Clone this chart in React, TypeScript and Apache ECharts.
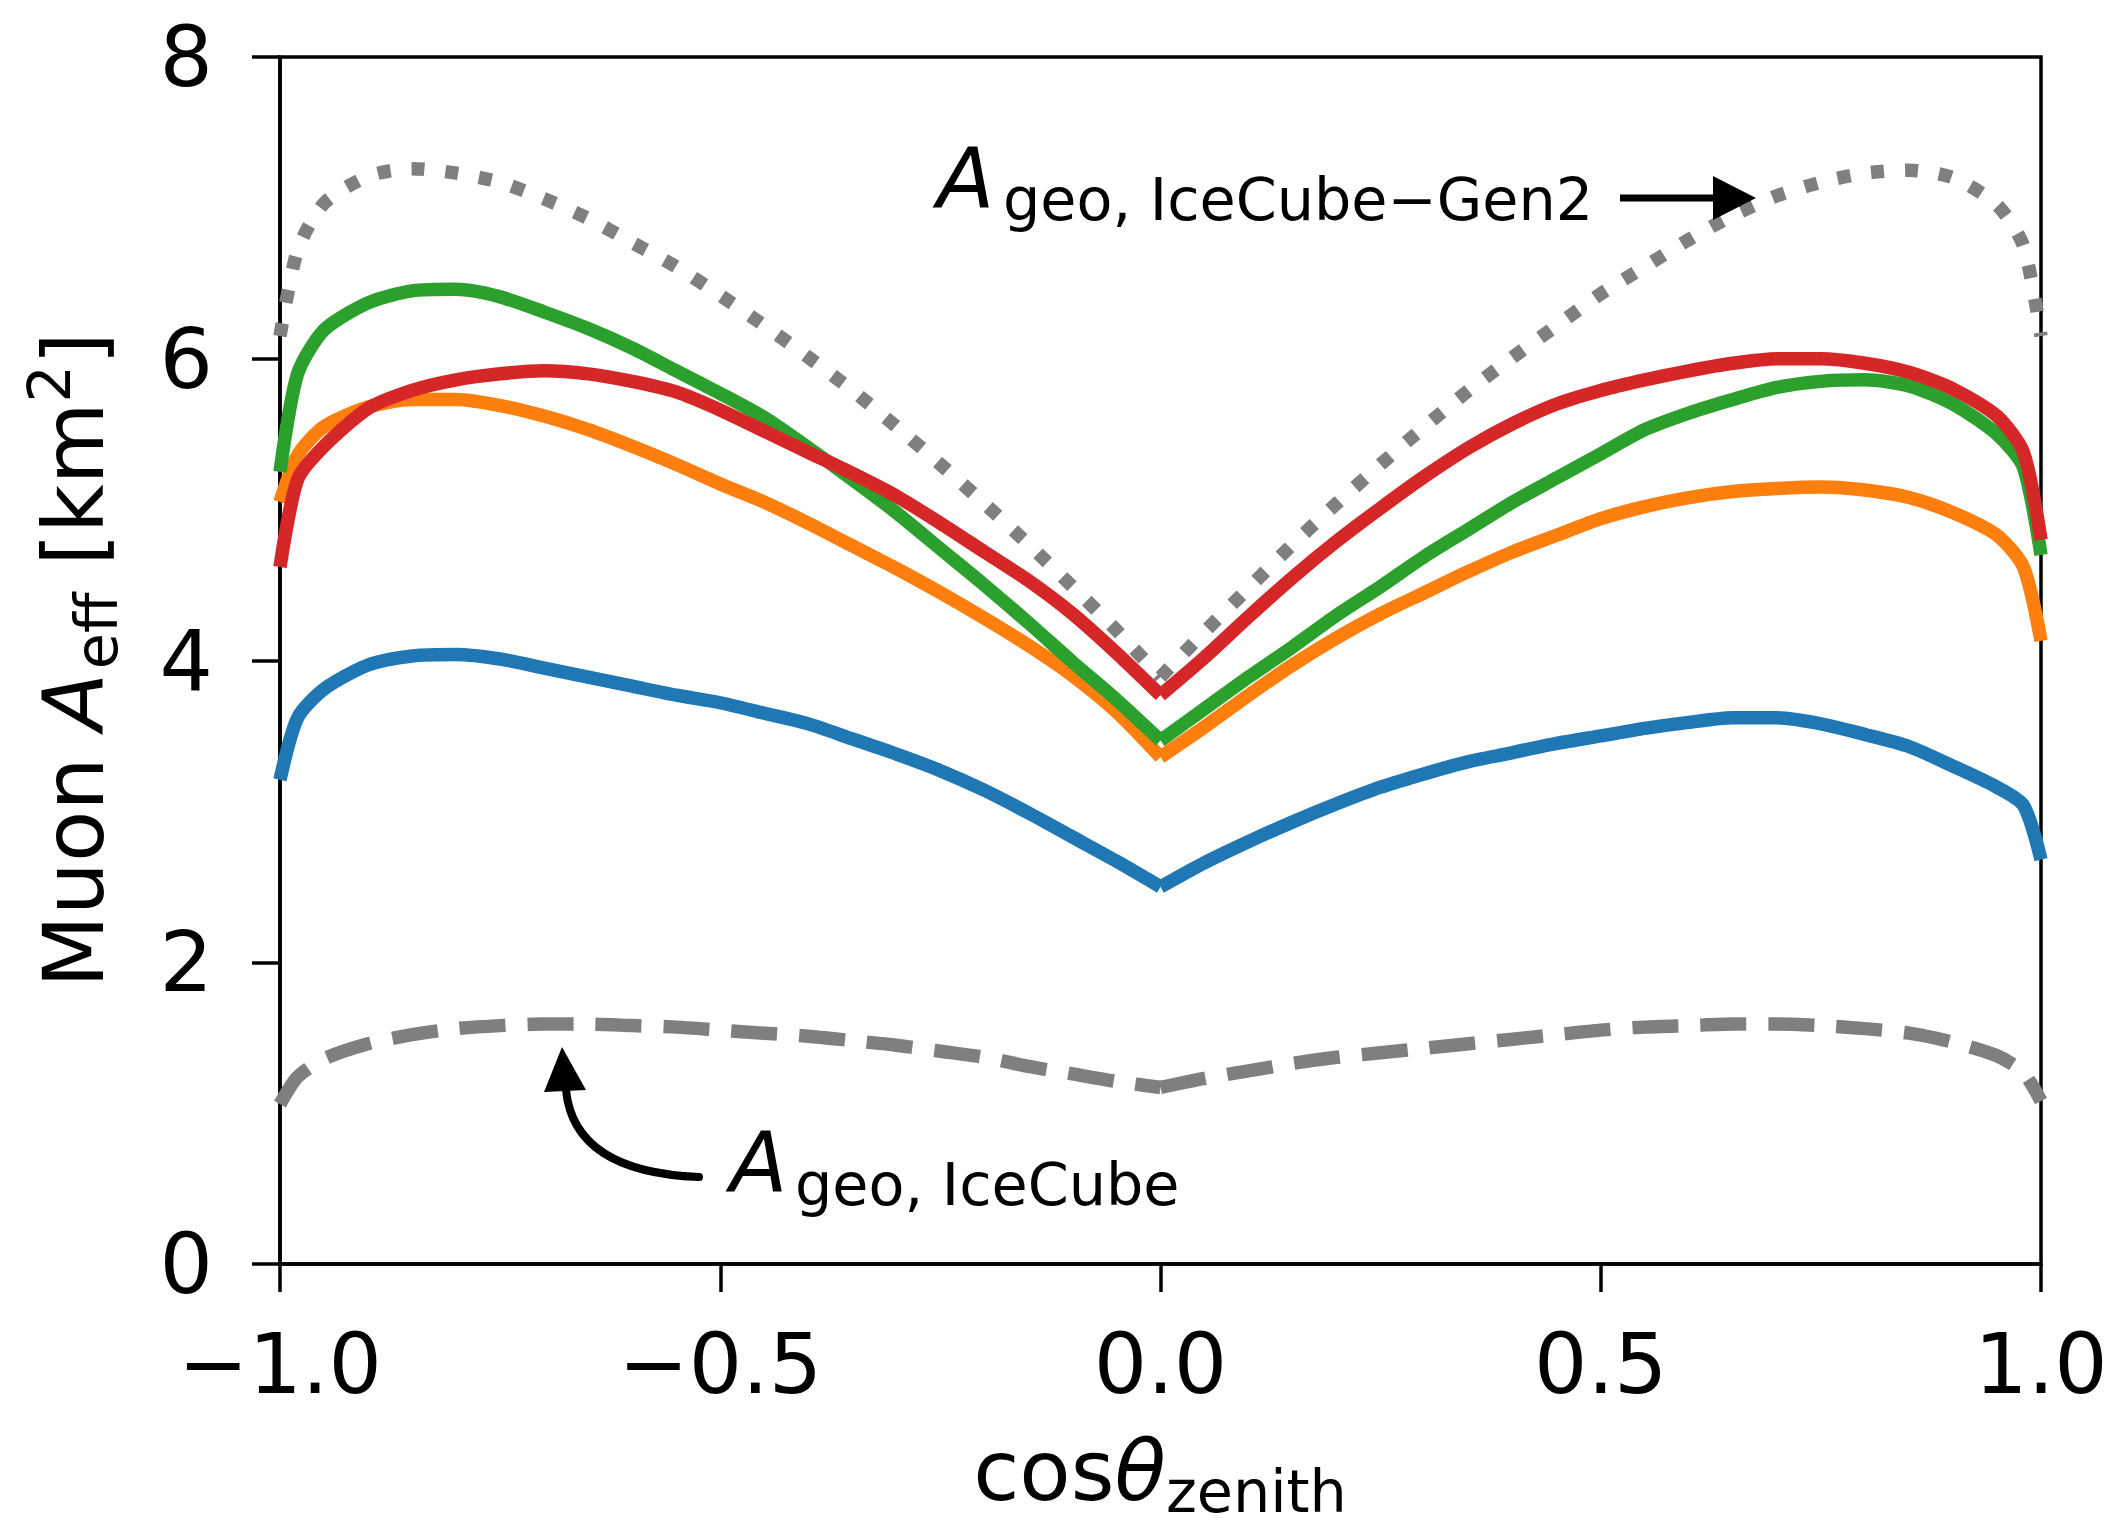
import React, { useEffect, useRef } from 'react';
import * as echarts from 'echarts';

// cos(theta_zenith) sample points
const COS = [-1, -0.98, -0.95, -0.9, -0.85, -0.8, -0.75, -0.7, -0.65, -0.6, -0.55, -0.5, -0.45, -0.4, -0.35, -0.3, -0.25, -0.2, -0.15, -0.1, -0.05, 0,
  0.05, 0.1, 0.15, 0.2, 0.25, 0.3, 0.35, 0.4, 0.45, 0.5, 0.55, 0.6, 0.65, 0.7, 0.75, 0.8, 0.85, 0.9, 0.95, 0.98, 1];

const BLUE = [3.21, 3.62, 3.81, 3.97, 4.03, 4.04, 4.01, 3.95, 3.89, 3.83, 3.77, 3.72, 3.65, 3.58, 3.48, 3.38, 3.27, 3.14, 2.99, 2.83, 2.67, 2.50,
  2.66, 2.80, 2.93, 3.05, 3.16, 3.25, 3.33, 3.39, 3.45, 3.50, 3.55, 3.59, 3.62, 3.62, 3.58, 3.51, 3.43, 3.30, 3.16, 3.04, 2.68];

const ORANGE = [5.05, 5.36, 5.55, 5.68, 5.73, 5.73, 5.69, 5.62, 5.53, 5.42, 5.30, 5.17, 5.05, 4.91, 4.76, 4.61, 4.45, 4.28, 4.10, 3.90, 3.66, 3.36,
  3.56, 3.77, 3.97, 4.15, 4.31, 4.45, 4.59, 4.72, 4.83, 4.94, 5.02, 5.08, 5.12, 5.14, 5.15, 5.13, 5.08, 4.98, 4.83, 4.62, 4.13];

const GREEN = [5.25, 5.90, 6.19, 6.37, 6.45, 6.46, 6.41, 6.31, 6.20, 6.07, 5.92, 5.77, 5.61, 5.41, 5.20, 4.98, 4.74, 4.50, 4.25, 3.99, 3.74, 3.47,
  3.68, 3.89, 4.09, 4.30, 4.49, 4.69, 4.87, 5.05, 5.21, 5.37, 5.53, 5.64, 5.73, 5.81, 5.85, 5.86, 5.82, 5.70, 5.50, 5.28, 4.70];

const RED = [4.62, 5.20, 5.42, 5.67, 5.79, 5.86, 5.90, 5.92, 5.90, 5.85, 5.78, 5.66, 5.52, 5.38, 5.24, 5.09, 4.91, 4.72, 4.53, 4.31, 4.05, 3.77,
  4.02, 4.29, 4.55, 4.79, 5.01, 5.22, 5.41, 5.57, 5.70, 5.79, 5.86, 5.92, 5.97, 6.00, 6.00, 5.97, 5.91, 5.80, 5.62, 5.38, 4.80];

const GEO_GEN2 = [6.15, 6.72, 7.03, 7.21, 7.26, 7.23, 7.17, 7.06, 6.93, 6.77, 6.61, 6.42, 6.22, 6.01, 5.79, 5.55, 5.30, 5.04, 4.77, 4.49, 4.20, 3.89,
  4.19, 4.48, 4.77, 5.04, 5.30, 5.55, 5.79, 6.01, 6.22, 6.43, 6.61, 6.79, 6.95, 7.08, 7.17, 7.23, 7.25, 7.20, 7.02, 6.75, 6.15];

const GEO_IC = [1.06, 1.24, 1.36, 1.46, 1.52, 1.56, 1.58, 1.59, 1.59, 1.58, 1.57, 1.55, 1.53, 1.51, 1.48, 1.45, 1.41, 1.37, 1.31, 1.26, 1.21, 1.17,
  1.23, 1.28, 1.33, 1.37, 1.40, 1.43, 1.46, 1.49, 1.52, 1.55, 1.57, 1.58, 1.59, 1.59, 1.58, 1.56, 1.53, 1.47, 1.38, 1.27, 1.08];

const X_TICKS = { min: -1, max: 1, interval: 0.5 };
const Y_TICKS = { min: 0, max: 8, interval: 2 };

const W = 2120;
const H = 1527;
const FF = 'DejaVu Sans';
const FS = 84;
const SUB = 58.8;
const LW = 13.5;

let _ctx: CanvasRenderingContext2D | null = null;
function measure(text: string, size: number, italic: boolean) {
  if (!_ctx) _ctx = document.createElement('canvas').getContext('2d');
  _ctx!.font = `${italic ? 'italic ' : ''}${size}px "${FF}"`;
  return _ctx!.measureText(text).width;
}

type Piece = { t: string; size: number; italic?: boolean; dy?: number; gap?: number };

// lays out pieces along a baseline starting at x0 (local coords)
function layout(pieces: Piece[], x0: number, baseline: number) {
  let x = x0;
  const out: any[] = [];
  for (const p of pieces) {
    x += p.gap || 0;
    out.push({
      type: 'text',
      x,
      y: baseline + (p.dy || 0) - 0.346 * p.size,
      style: {
        text: p.t,
        fontSize: p.size,
        fontFamily: FF,
        fontStyle: p.italic ? 'italic' : 'normal',
        fill: '#000',
        align: 'left',
        verticalAlign: 'middle',
        lineHeight: Math.round(p.size * 0.7),
      },
    });
    x += measure(p.t, p.size, !!p.italic);
  }
  return { els: out, width: x - x0 };
}

function fmtX(v: number) {
  const s = Math.abs(v).toFixed(1);
  return v < 0 ? '\u2212' + s : s;
}

function App() {
  const ref = useRef<HTMLDivElement>(null);
  useEffect(() => {
    const chart = echarts.init(ref.current!, undefined, { renderer: 'svg' });

    const MID = COS.indexOf(0);
    const pts = (arr: number[], a: number, b: number) => COS.slice(a, b + 1).map((x, i) => [x, arr[a + i]]);
    // each curve is drawn as two smooth halves that meet at cos = 0, keeping the sharp kink there
    const curve = (name: string, arr: number[], color: string, type: any = 'solid') =>
      [pts(arr, 0, MID), pts(arr, MID, COS.length - 1)].map((data, k) => ({
        name: name + (k ? ' (up)' : ' (down)'),
        type: 'line',
        data,
        showSymbol: false,
        symbol: 'none',
        smooth: 0.25,
        lineStyle: { width: LW, color, type, cap: 'butt', join: 'round' },
        z: 3,
      }));

    // y-axis title
    const yl = layout([
      { t: 'Muon ', size: FS },
      { t: 'A', size: FS, italic: true },
      { t: 'eff', size: SUB, dy: 14, gap: 4 },
      { t: ' [km', size: FS },
      { t: '2', size: SUB, dy: -33 },
      { t: ']', size: FS },
    ], 0, 0);

    const xl = layout([
      { t: 'cos', size: FS },
      { t: '\u03b8', size: FS, italic: true },
      { t: 'zenith', size: SUB, dy: 12 },
    ], 0, 0);

    const a1 = layout([{ t: 'A', size: FS, italic: true }], 937, 208);
    const a1s = layout([{ t: 'geo, IceCube\u2212Gen2', size: SUB }], 1003, 220);
    const a2 = layout([{ t: 'A', size: FS, italic: true }], 730, 1192);
    const a2s = layout([{ t: 'geo, IceCube', size: SUB }], 795, 1205);

    chart.setOption({
      animation: false,
      backgroundColor: '#fff',
      grid: { left: 280, top: 57, right: 79, bottom: 263, show: true, borderColor: '#000', borderWidth: 3.5, containLabel: false },
      xAxis: {
        type: 'value',
        ...X_TICKS,
        axisLine: { show: true, onZero: false, lineStyle: { color: '#000', width: 3.5 } },
        axisTick: { show: true, length: 28, lineStyle: { color: '#000', width: 3.5 } },
        axisLabel: { fontSize: FS, fontFamily: FF, color: '#000', margin: 58, formatter: fmtX },
        splitLine: { show: false },
      },
      yAxis: {
        type: 'value',
        ...Y_TICKS,
        axisLine: { show: true, onZero: false, lineStyle: { color: '#000', width: 3.5 } },
        axisTick: { show: true, length: 28, lineStyle: { color: '#000', width: 3.5 } },
        axisLabel: { fontSize: FS, fontFamily: FF, color: '#000', margin: 67 },
        splitLine: { show: false },
      },
      series: [
        ...curve('blue', BLUE, '#1f77b4'),
        ...curve('orange', ORANGE, '#ff7f0e'),
        ...curve('green', GREEN, '#2ca02c'),
        ...curve('red', RED, '#d62728'),
        ...curve('A_geo IceCube', GEO_IC, '#7f7f7f', [46, 22]),
        ...curve('A_geo IceCube-Gen2', GEO_GEN2, '#7f7f7f', [13, 21]),
      ],
      graphic: [
        {
          type: 'group',
          x: 103,
          y: 660 + yl.width / 2,
          rotation: Math.PI / 2,
          children: yl.els,
        },
        {
          type: 'group',
          x: 1160 - xl.width / 2,
          y: 1500,
          children: xl.els,
        },
        ...a1.els,
        ...a1s.els,
        ...a2.els,
        ...a2s.els,
        {
          type: 'line',
          shape: { x1: 1620, y1: 198, x2: 1720, y2: 198 },
          style: { stroke: '#000', lineWidth: 7 },
          z: 10,
        },
        {
          type: 'polygon',
          shape: { points: [[1756, 198], [1713, 176], [1713, 220]] },
          style: { fill: '#000' },
          z: 10,
        },
        {
          type: 'bezierCurve',
          shape: { x1: 699, y1: 1177, cpx1: 574, cpy1: 1172, x2: 566, y2: 1090 },
          style: { stroke: '#000', lineWidth: 8, fill: null, lineCap: 'round' },
          z: 10,
        },
        {
          type: 'polygon',
          shape: { points: [[562, 1047], [544, 1092], [586, 1090]] },
          style: { fill: '#000' },
          z: 10,
        },
      ],
    });
    return () => chart.dispose();
  }, []);
  return <div ref={ref} style={{ position: 'absolute', left: 0, top: 0, width: W, height: H, background: '#fff' }} />;
}

export default App;
